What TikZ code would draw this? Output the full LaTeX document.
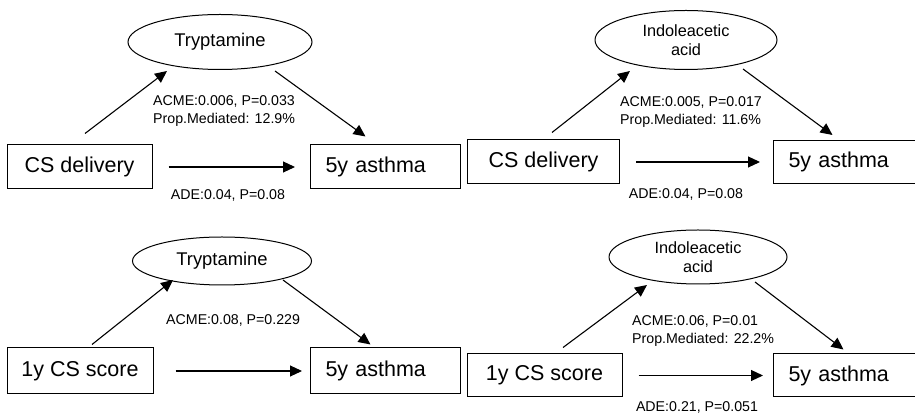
\documentclass[tikz,border=0pt]{standalone}
\usepackage{fontspec}
\setmainfont{Liberation Sans}
\usetikzlibrary{arrows.meta, positioning, shapes.geometric}

\begin{document}
\begin{tikzpicture}[
  x=1pt, y=1pt,
  box/.style    = {rectangle, draw, line width=1pt, minimum height=44pt,
                   inner sep=0pt, font=\fontsize{21.5}{24}\selectfont},
  outbox/.style = {box, anchor=west, inner xsep=15pt, text width=120pt,
                   align=left},
  med/.style    = {ellipse, draw, line width=1pt, inner sep=0pt, align=center},
  arrow/.style  = {-{Triangle[length=12pt,width=11pt]}, line width=1.1pt},
  stat/.style   = {font=\fontsize{14.2}{18}\selectfont, align=left, inner sep=0pt},
]
\useasboundingbox (0,0) rectangle (915,417);

% Panel top left
\node[box, minimum width=145pt] (csA) at (79.5,250) {CS delivery};
\node[outbox] (asthmaA) at (310,250) {5y asthma};
\node[med, minimum width=184pt, minimum height=55pt,
      font=\fontsize{18.4}{20}\selectfont] (medA) at (220,375) {Tryptamine};
\draw[arrow, shorten <=16pt, shorten >=15pt] (csA.east) -- (asthmaA.west);
\draw[arrow] ([shift={(5.5,11)}]csA.north) -- ([shift={(-53,-29)}]medA.center);
\draw[arrow] ([shift={(55,-29)}]medA.center) -- ([shift={(-20,8)}]asthmaA.north);
\node[stat, anchor=west] (acmeA) at (153,306) {ACME:0.006, P=0.033\\Prop.Mediated: 12.9\%};
\node[stat] (adeA) at (228,222) {ADE:0.04, P=0.08};

% Panel top right
\node[box, minimum width=152pt] (csB) at (543.5,255) {CS delivery};
\node[outbox, minimum height=43pt] (asthmaB) at (773,255) {5y asthma};
\node[med, minimum width=182pt, minimum height=59pt,
      font=\fontsize{16.3}{19}\selectfont] (medB) at (686,377) {Indoleacetic\\acid};
\draw[arrow, shorten <=16pt, shorten >=13pt] (csB.east) -- (asthmaB.west);
\draw[arrow] ([shift={(8.5,7)}]csB.north) -- ([shift={(-56,-31)}]medB.center);
\draw[arrow] ([shift={(57,-29)}]medB.center) -- ([shift={(-16,5)}]asthmaB.north);
\node[stat, anchor=west] (acmeB) at (620,305) {ACME:0.005, P=0.017\\Prop.Mediated: 11.6\%};
\node[stat] (adeB) at (686,223) {ADE:0.04, P=0.08};

% Panel bottom left
\node[box, minimum width=146pt, minimum height=46pt] (csC) at (80,46) {1y CS score};
\node[outbox, minimum height=46pt] (asthmaC) at (310,46) {5y asthma};
\node[med, minimum width=179pt, minimum height=48pt,
      font=\fontsize{18.4}{20}\selectfont] (medC) at (222,156) {Tryptamine};
\draw[arrow, shorten <=22pt, shorten >=8pt] (csC.east) -- (asthmaC.west);
\draw[arrow] ([shift={(12,3)}]csC.north) -- ([shift={(-49,-19)}]medC.center);
\draw[arrow] ([shift={(61,-19)}]medC.center) -- ([shift={(-15,3)}]asthmaC.north);
\node[stat, anchor=west] (acmeC) at (166,97) {ACME:0.08, P=0.229};

% Panel bottom right
\node[box, minimum width=155pt, minimum height=43pt] (csD) at (544.5,41.5) {1y CS score};
\node[outbox, minimum height=43pt] (asthmaD) at (773,41.5) {5y asthma};
\node[med, minimum width=178pt, minimum height=54pt,
      font=\fontsize{16.3}{19}\selectfont] (medD) at (698,160) {Indoleacetic\\acid};
\draw[arrow, shorten <=16pt, shorten >=10pt] (csD.east) -- (asthmaD.west);
\draw[arrow] ([shift={(18.5,6)}]csD.north) -- ([shift={(-51,-28)}]medD.center);
\draw[arrow] ([shift={(57,-25)}]medD.center) -- ([shift={(-5,4)}]asthmaD.north);
\node[stat, anchor=west] (acmeD) at (632,86) {ACME:0.06, P=0.01\\Prop.Mediated: 22.2\%};
\node[stat] (adeD) at (697,10) {ADE:0.21, P=0.051};
\end{tikzpicture}
\end{document}
